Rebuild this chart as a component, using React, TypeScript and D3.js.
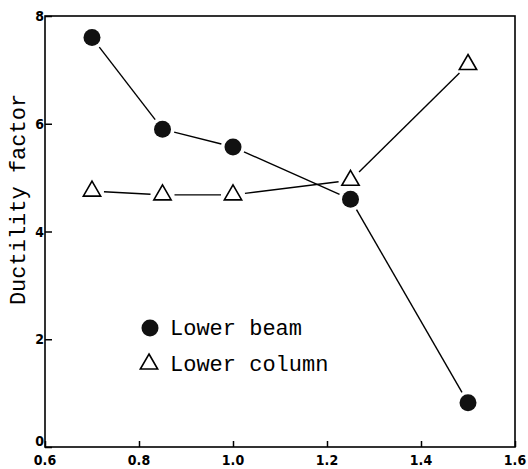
import React, { useEffect, useRef } from 'react';
import * as d3 from 'd3';

// data
const xValues = [0.7, 0.85, 1.0, 1.25, 1.5];
const lowerBeam = [7.6, 5.9, 5.57, 4.6, 0.82];
const lowerColumn = [4.75, 4.68, 4.68, 4.95, 7.1];
const xTicks = [0.6, 0.8, 1.0, 1.2, 1.4, 1.6];
const yTicks = [0, 2, 4, 6, 8];

const App = () => {
  const ref = useRef<SVGSVGElement>(null);

  const width = 528, height = 469;
  const marginLeft = 45, marginRight = 13, marginTop = 16, marginBottom = 22;

  useEffect(() => {
    const svg = d3.select(ref.current);
    svg.selectAll('*').remove();

    const x = d3.scaleLinear().domain([0.6, 1.6]).range([marginLeft, width - marginRight]);
    const y = d3.scaleLinear().domain([0, 8]).range([height - marginBottom, marginTop]);

    const mono = '"Liberation Mono", "DejaVu Sans Mono", monospace';
    const tickFont = '"DejaVu Sans Condensed", "Liberation Sans Narrow", sans-serif';

    // frame
    svg.append('rect')
      .attr('x', marginLeft).attr('y', marginTop)
      .attr('width', width - marginLeft - marginRight)
      .attr('height', height - marginTop - marginBottom)
      .attr('fill', 'none').attr('stroke', '#000').attr('stroke-width', 1.6);

    // x axis, ticks pointing inward
    svg.append('g')
      .attr('transform', `translate(0,${height - marginBottom})`)
      .call(d3.axisTop(x).tickValues(xTicks).tickSize(6).tickFormat(() => ''))
      .call(g => {
        g.select('.domain').remove();
        g.selectAll('.tick line').attr('stroke', '#000').attr('stroke-width', 1.5);
      });
    svg.append('g')
      .selectAll('text')
      .data(xTicks)
      .join('text')
      .attr('x', d => x(d))
      .attr('y', height - 4)
      .attr('text-anchor', 'middle')
      .attr('font-family', tickFont)
      .attr('font-weight', 'bold')
      .attr('font-size', 14)
      .text(d => d3.format('.1f')(d));

    // y axis, ticks pointing inward
    svg.append('g')
      .attr('transform', `translate(${marginLeft},0)`)
      .call(d3.axisRight(y).tickValues(yTicks).tickSize(7).tickFormat(() => ''))
      .call(g => {
        g.select('.domain').remove();
        g.selectAll('.tick line').attr('stroke', '#000').attr('stroke-width', 1.5);
      });
    svg.append('g')
      .selectAll('text')
      .data(yTicks)
      .join('text')
      .attr('x', marginLeft - 1)
      .attr('y', d => (d === 0 ? y(d) - 1 : y(d) + 5))
      .attr('text-anchor', 'end')
      .attr('font-family', tickFont)
      .attr('font-weight', 'bold')
      .attr('font-size', 14)
      .text(d => d);

    // y title
    svg.append('text')
      .attr('transform', `translate(25,${(marginTop + height - marginBottom) / 2 - 32}) rotate(-90)`)
      .attr('text-anchor', 'middle')
      .attr('font-family', mono)
      .attr('font-size', 22)
      .text('Ductility factor');

    // connecting segments, trimmed so they stop short of the markers
    const drawSeries = (vals: number[]) => {
      const pts = xValues.map((v, i) => [x(v), y(vals[i])]);
      const gap = 12;
      const segs = d3.pairs(pts).map(([a, b]) => {
        const dx = b[0] - a[0], dy = b[1] - a[1];
        const len = Math.hypot(dx, dy);
        const ux = dx / len, uy = dy / len;
        return [a[0] + ux * gap, a[1] + uy * gap, b[0] - ux * gap, b[1] - uy * gap];
      });
      svg.append('g')
        .selectAll('line')
        .data(segs)
        .join('line')
        .attr('x1', d => d[0]).attr('y1', d => d[1])
        .attr('x2', d => d[2]).attr('y2', d => d[3])
        .attr('stroke', '#000').attr('stroke-width', 1.4);
    };
    drawSeries(lowerBeam);
    drawSeries(lowerColumn);

    const tri = d3.symbol().type(d3.symbolTriangle).size(130);

    // markers
    svg.append('g')
      .selectAll('circle')
      .data(lowerBeam)
      .join('circle')
      .attr('cx', (d, i) => x(xValues[i]))
      .attr('cy', d => y(d))
      .attr('r', 8.5)
      .attr('fill', '#111');

    svg.append('g')
      .selectAll('path')
      .data(lowerColumn)
      .join('path')
      .attr('d', tri)
      .attr('transform', (d, i) => `translate(${x(xValues[i])},${y(d)})`)
      .attr('fill', '#fff')
      .attr('stroke', '#000')
      .attr('stroke-width', 1.6);

    // legend
    const legend = svg.append('g');
    legend.append('circle').attr('cx', 150).attr('cy', 328).attr('r', 8.5).attr('fill', '#111');
    legend.append('path').attr('d', tri).attr('transform', 'translate(149,364)')
      .attr('fill', '#fff').attr('stroke', '#000').attr('stroke-width', 1.6);
    legend.append('text').attr('x', 170).attr('y', 335)
      .attr('font-family', mono).attr('font-size', 22).text('Lower beam');
    legend.append('text').attr('x', 170).attr('y', 371)
      .attr('font-family', mono).attr('font-size', 22).text('Lower column');
  }, []);

  return (
    <svg
      ref={ref}
      width={width}
      height={height}
      style={{ position: 'absolute', left: 0, top: 0, background: '#fff' }}
    />
  );
};

export default App;
